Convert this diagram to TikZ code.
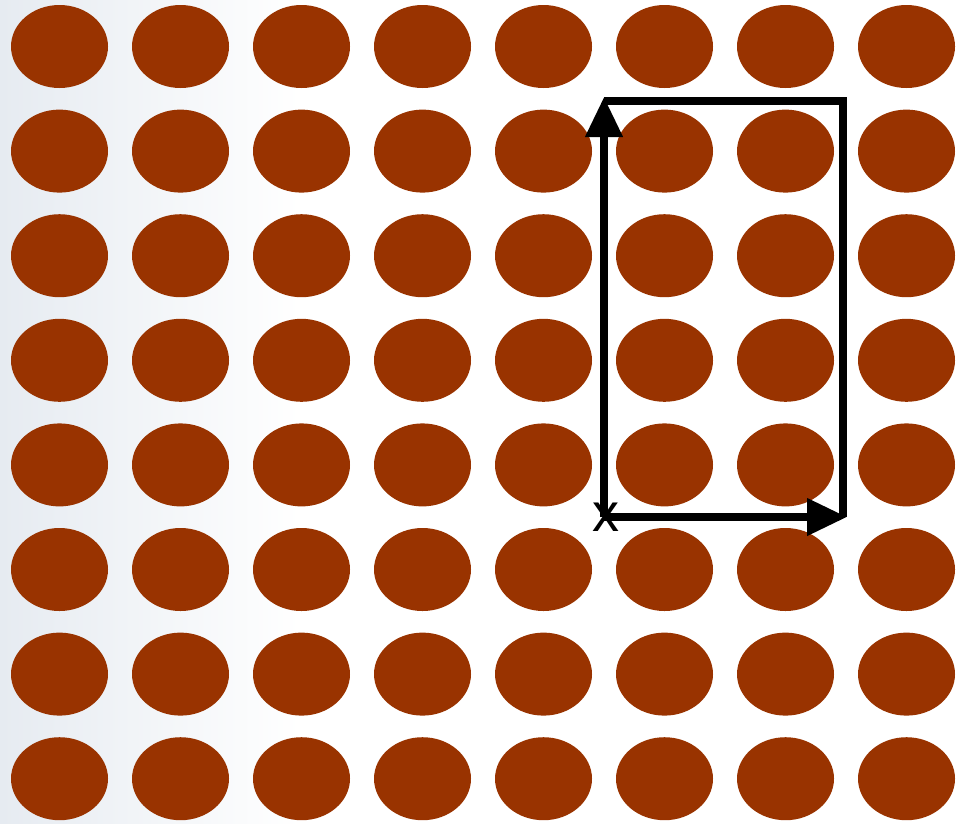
\documentclass[tikz,border=0pt]{standalone}
\usepackage{fontspec}
\setmainfont{Liberation Sans}
\usetikzlibrary{shapes.geometric,arrows.meta}
\definecolor{rust}{HTML}{993300}
\definecolor{paleblue}{HTML}{E6EBF1}

\begin{document}
\begin{tikzpicture}[x=1pt,y=-1pt,
    dot/.style={ellipse,fill=rust,minimum width=97pt,minimum height=83pt,inner sep=0pt},
    side/.style={line width=7.5pt,black},
    vec/.style={side,-{Triangle[length=40pt,width=36pt]}},
    lbl/.style={font=\fontsize{54}{60}\selectfont,inner sep=0pt}]
    \useasboundingbox (0,0) rectangle (957,823);
    \shade[left color=paleblue,right color=white] (0,0) rectangle (300,823);
    \foreach \i in {0,...,7}
      \foreach \j in {0,...,7}
        \node[dot] (d-\i-\j) at (59.5+121*\i,46.5+104.6*\j) {};
    \coordinate (o) at (604,517);
    \coordinate (tl) at (604,101);
    \coordinate (tr) at (843,101);
    \coordinate (br) at (843,517);
    \node[lbl] (xl) at (606,517) {x};
    \draw[side,line join=miter] (tl) -- (tr) -- (br);
    \draw[vec] (o) -- ([yshift=4pt]tl);
    \draw[vec] (o) -- ([xshift=4pt]br);
\end{tikzpicture}
\end{document}
